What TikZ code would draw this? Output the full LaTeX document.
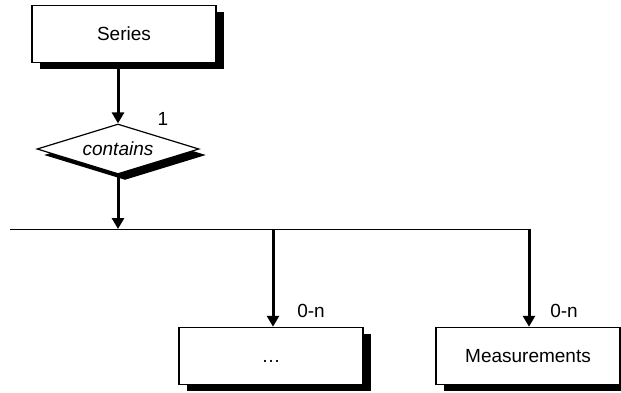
\documentclass[tikz,border=0pt]{standalone}
\usepackage{fontspec}
\setmainfont{Liberation Sans}
\usetikzlibrary{arrows.meta,shapes.geometric,shadows}
\begin{document}
\begin{tikzpicture}[x=1pt,y=-1pt,
  txt/.style={font=\fontsize{19}{22}\selectfont},
  box/.style={txt, draw, line width=1.5pt, fill=white, minimum width=184pt, minimum height=57pt, inner sep=0pt,
    text height=13.6pt, text depth=0pt,
    drop shadow={shadow xshift=8pt, shadow yshift=-6pt, fill=black, opacity=1}},
  rel/.style={txt, diamond, draw, line width=1.2pt, fill=white, minimum width=162pt, minimum height=50pt, aspect=3.24, inner sep=0pt,
    drop shadow={shadow xshift=7pt, shadow yshift=-6pt, fill=black, opacity=1}},
  arr/.style={line width=3pt, -{Triangle[length=11pt,width=12pt]}},
  thinline/.style={line width=1pt}
]
\useasboundingbox (0,0) rectangle (621,392);
\node[box] (series) at (124,34) {Series};
\node[rel] (dia) at (118,149) {\itshape contains};
\node[box] (dots) at (271,356) {\dots};
\node[box] (meas) at (528,356) {Measurements};
\coordinate (hl) at (10,229);
\coordinate (hr) at (529,229);
\coordinate (b1) at (273,229);
\draw[thinline] (hl) -- (hr);
\draw[arr] (series.south -| dia.north) -- (dia.north);
\draw[arr] (dia.south) -- (dia.south |- hl);
\draw[arr] (b1) -- (b1 |- dots.north);
\draw[arr] (hr) -- (hr |- meas.north);
\node[txt] (l1) at (163,119) {1};
\node[txt] (l2) at (311,311) {0-n};
\node[txt] (l3) at (564,311) {0-n};
\end{tikzpicture}
\end{document}
